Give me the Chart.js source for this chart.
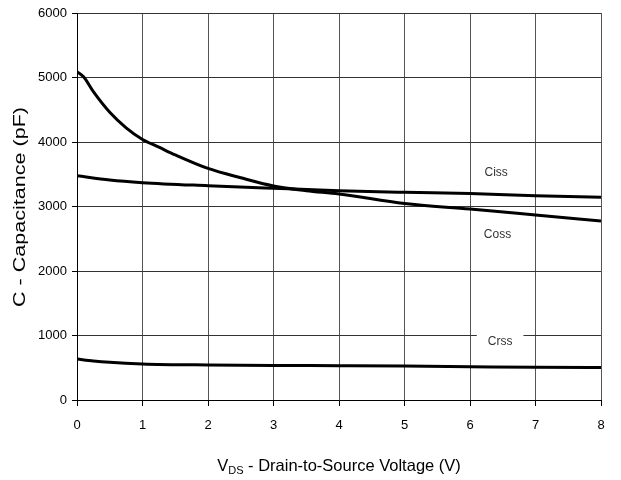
<!DOCTYPE html>
<html>
<head>
<meta charset="utf-8">
<script src="https://cdn.jsdelivr.net/npm/chart.js@4/dist/chart.umd.min.js"></script>
<style>
html,body{margin:0;padding:0;background:#fff;}
#wrap{width:621px;height:480px;}
</style>
</head>
<body>
<div id="wrap"><canvas id="c" width="621" height="480"></canvas></div>
<script>
// Data
const cissV = [0, 0.5, 1, 2, 3, 4, 5, 6, 7, 8];
const cissC = [3475, 3410, 3370, 3322, 3282, 3245, 3220, 3200, 3168, 3143];

const cossV = [0, 0.1, 0.25, 0.5, 0.75, 1, 1.25, 1.5, 2, 2.5, 3, 3.5, 4, 5, 6, 7, 8];
const cossC = [5090, 5010, 4780, 4460, 4220, 4040, 3920, 3800, 3590, 3445, 3318, 3245, 3194, 3045, 2960, 2868, 2775];

const crssV = [0, 0.25, 0.5, 1, 2, 3, 4, 5, 6, 7, 8];
const crssC = [636, 605, 584, 560, 543, 535, 532, 527, 517, 507, 505];

const seriesNames = ['Ciss', 'Coss', 'Crss'];
const labelAnchors = [ // [x value, y value] where each series name sits
  [6.4, 3530], [6.42, 2570], [6.46, 900]
];

const xTicks = [0, 1, 2, 3, 4, 5, 6, 7, 8];
const yTicks = [0, 1000, 2000, 3000, 4000, 5000, 6000];
const yTitle = 'C - Capacitance (pF)';
const xTitleMain = 'V';
const xTitleSub = 'DS';
const xTitleRest = ' - Drain-to-Source Voltage (V)';

const pts = (xs, ys) => xs.map((x, i) => ({x: x, y: ys[i]}));
const FONT = '"Liberation Sans", Arial, sans-serif';

const labelsPlugin = {
  id: 'labelsPlugin',
  afterDatasetsDraw(chart) {
    const ctx = chart.ctx;
    const xs = chart.scales.x, ys = chart.scales.y;
    ctx.save();
    ctx.font = '12px ' + FONT;
    ctx.textAlign = 'center';
    ctx.textBaseline = 'middle';
    seriesNames.forEach((name, i) => {
      const px = xs.getPixelForValue(labelAnchors[i][0]);
      const py = ys.getPixelForValue(labelAnchors[i][1]);
      if (name === 'Crss') {
        const w = ctx.measureText(name).width;
        ctx.fillStyle = '#fff';
        ctx.fillRect(px - w / 2 - 11, py - 9, w + 22, 17);
      }
      ctx.fillStyle = '#333';
      ctx.fillText(name, px, py);
    });
    // x axis title with subscript
    ctx.fillStyle = '#000';
    ctx.textAlign = 'left';
    ctx.textBaseline = 'alphabetic';
    const big = '16.5px ' + FONT, small = '11px ' + FONT;
    ctx.font = big; const w1 = ctx.measureText(xTitleMain).width;
    const w3 = ctx.measureText(xTitleRest).width;
    ctx.font = small; const w2 = ctx.measureText(xTitleSub).width;
    const total = w1 + w2 + w3;
    const cx = (chart.chartArea.left + chart.chartArea.right) / 2;
    let x0 = cx - total / 2;
    const base = 471;
    ctx.font = big; ctx.fillText(xTitleMain, x0, base);
    ctx.font = small; ctx.fillText(xTitleSub, x0 + w1, base + 3);
    ctx.font = big; ctx.fillText(xTitleRest, x0 + w1 + w2, base);
    // y axis title (horizontally stretched, as in the reference)
    ctx.font = '16.5px ' + FONT;
    const tw = ctx.measureText(yTitle).width;
    ctx.translate(20, 207);
    ctx.rotate(-Math.PI / 2);
    ctx.scale(200 / tw, 1);
    ctx.textAlign = 'center';
    ctx.textBaseline = 'middle';
    ctx.fillText(yTitle, 0, 0);
    ctx.restore();
  }
};

const lineDs = (label, data) => ({
  label: label,
  data: data,
  borderColor: '#000',
  borderWidth: 3,
  pointRadius: 0,
  fill: false,
  cubicInterpolationMode: 'monotone'
});

new Chart(document.getElementById('c'), {
  type: 'line',
  data: {
    datasets: [
      lineDs('Ciss', pts(cissV, cissC)),
      lineDs('Coss', pts(cossV, cossC)),
      lineDs('Crss', pts(crssV, crssC))
    ]
  },
  options: {
    responsive: false,
    animation: false,
    events: [],
    layout: {padding: {top: 13, right: 20, left: 0, bottom: 0}},
    plugins: {legend: {display: false}, tooltip: {enabled: false}},
    scales: {
      x: {
        type: 'linear',
        min: 0, max: 8,
        afterBuildTicks: (s) => { s.ticks = xTicks.map(v => ({value: v})); },
        afterFit: (s) => { s.height = 80; },
        grid: {color: '#555', lineWidth: 1, tickLength: 6, drawTicks: true, tickColor: '#000'},
        border: {color: '#000', width: 1},
        ticks: {color: '#000', font: {size: 13, family: FONT}, padding: 12, maxRotation: 0,
                callback: (v) => String(v)}
      },
      y: {
        type: 'linear',
        min: 0, max: 6000,
        afterBuildTicks: (s) => { s.ticks = yTicks.map(v => ({value: v})); },
        afterFit: (s) => { s.width = 77; },
        grid: {color: '#333', lineWidth: 1, tickLength: 5, tickColor: '#000'},
        border: {color: '#000', width: 1},
        ticks: {color: '#000', font: {size: 13, family: FONT}, padding: 5,
                callback: (v) => String(v)}
      }
    }
  },
  plugins: [labelsPlugin]
});
</script>
</body>
</html>
